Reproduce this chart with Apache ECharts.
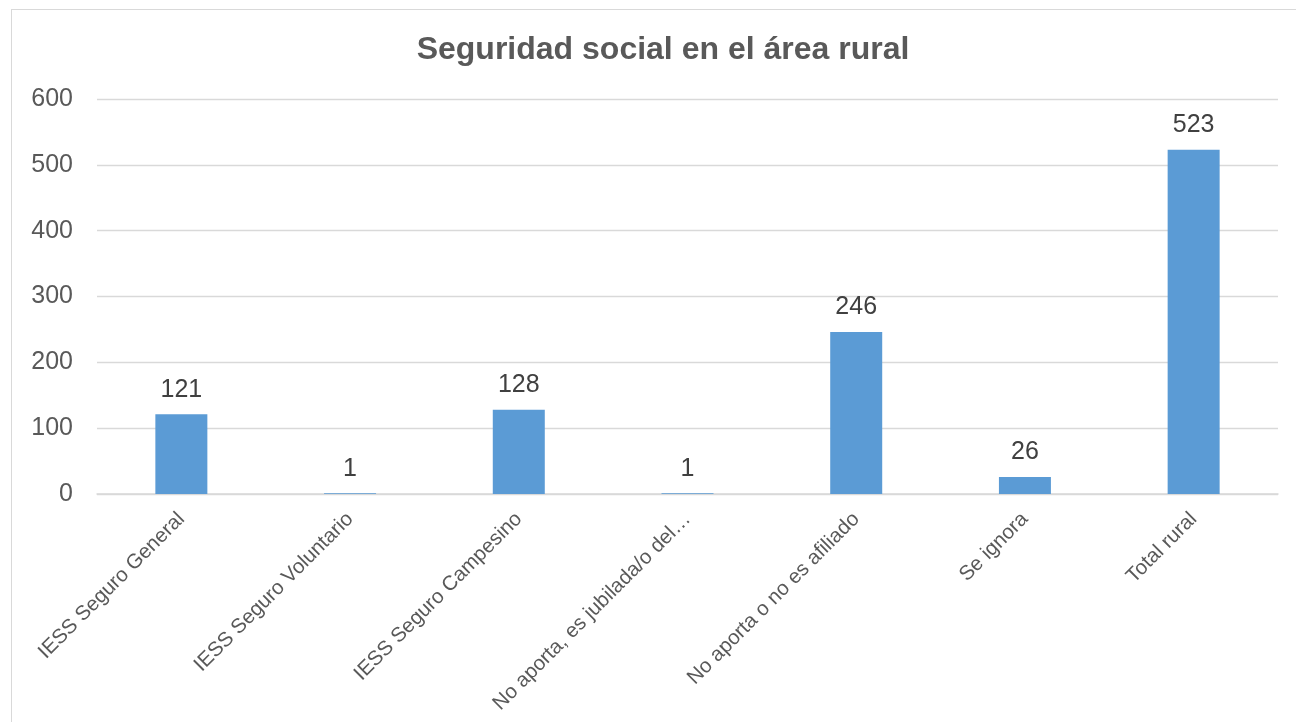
<!DOCTYPE html>
<html>
<head>
<meta charset="utf-8">
<script src="https://cdn.jsdelivr.net/npm/echarts@6/dist/echarts.min.js"></script>
<style>
html,body{margin:0;padding:0;background:#fff;}
#frame{position:absolute;left:11px;top:9px;width:1300px;height:730px;border:1px solid #d9d9d9;box-sizing:border-box;}
#chart{position:absolute;left:0;top:0;width:1296px;height:722px;}
</style>
</head>
<body>
<div id="frame"></div>
<div id="chart"></div>
<script>
const categories = ["IESS Seguro General","IESS Seguro Voluntario","IESS Seguro Campesino","No aporta, es jubilada/o del\u2026","No aporta o no es afiliado","Se ignora","Total rural"];
const values = [121, 1, 128, 1, 246, 26, 523];
const yTicks = [0, 100, 200, 300, 400, 500, 600];

const chart = echarts.init(document.getElementById('chart'), null, {renderer:'canvas'});
chart.setOption({
  animation:false,
  backgroundColor:'transparent',
  title:{
    text:'Seguridad social en el área rural',
    left:658, top:29, textAlign:'center',
    textStyle:{fontFamily:'Liberation Sans, Arial', fontSize:32, fontWeight:'bold', color:'#595959'}
  },
  grid:{left:97, right:18, top:99, bottom:228, containLabel:false},
  xAxis:{
    type:'category', data:categories,
    axisLine:{show:true, lineStyle:{color:'#d9d9d9', width:1.5}},
    axisTick:{show:false},
    axisLabel:{rotate:45, interval:0, margin:22, fontFamily:'Liberation Sans, Arial', fontSize:20.5, color:'#595959'}
  },
  yAxis:{
    type:'value', min:0, max:600, interval:100,
    axisLine:{show:false}, axisTick:{show:false},
    splitLine:{lineStyle:{color:'#d9d9d9', width:1.3}},
    axisLabel:{margin:24, fontFamily:'Liberation Sans, Arial', fontSize:25, color:'#595959',
      formatter:function(v){return yTicks.indexOf(v)>=0?String(v):'';}}
  },
  series:[{
    type:'bar', data:values, barWidth:52,
    itemStyle:{color:'#5b9bd5'},
    label:{show:true, position:'top', distance:12, fontFamily:'Liberation Sans, Arial', fontSize:25, color:'#404040'}
  }]
});
</script>
</body>
</html>
